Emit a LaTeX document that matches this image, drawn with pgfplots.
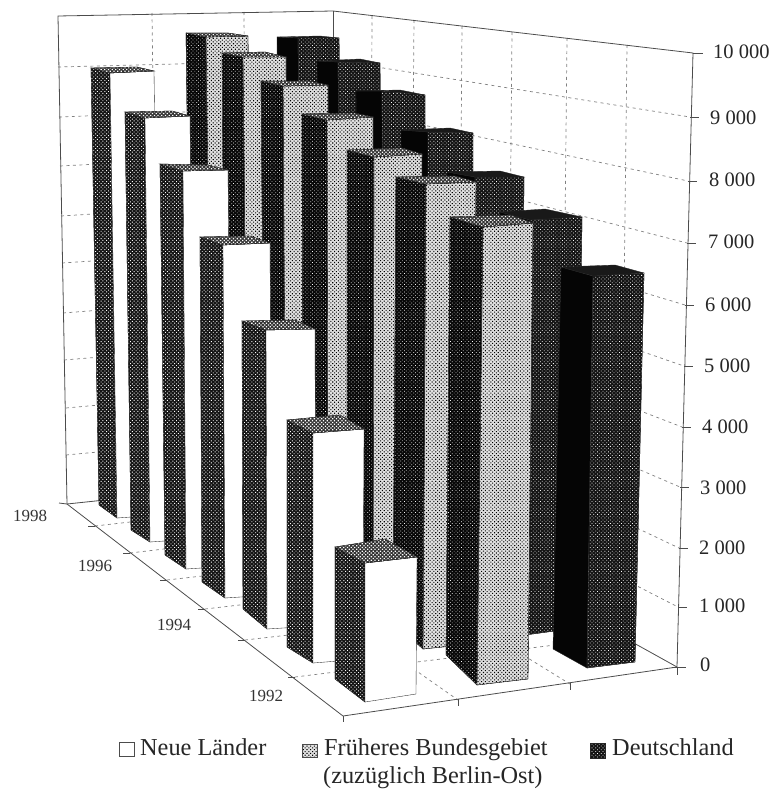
\documentclass[border=0pt]{standalone}
\usepackage{fontspec}
\setmainfont{Liberation Serif}
\usepackage{pgfplots}
\pgfplotsset{compat=1.18}
\usetikzlibrary{patterns.meta}
\tikzset{
  wd/.style={pattern={Dots[distance=2.6pt,radius=#1,angle=45]},pattern color=white},
  bd/.style={pattern={Dots[distance=2.6pt,radius=#1,angle=45]},pattern color=black},
  NLl/.style={fill=black!92,postaction={wd=.65pt}},
  NLf/.style={fill=white},
  NLt/.style={fill=black!80,postaction={wd=.9pt}},
  Fl/.style={fill=black!97,postaction={wd=.5pt}},
  Ff/.style={fill=black!12,postaction={bd=.75pt}},
  Ft/.style={fill=black!80,postaction={wd=.9pt}},
  Dl/.style={fill=black!98},
  Df/.style={fill=black!92,postaction={wd=.55pt}},
  Dt/.style={fill=black!90},
  grd/.style={gray,line width=.7pt,dash pattern=on 3pt off 3.5pt},
  axl/.style={black!70,line width=.8pt}
}
% #1 series; #2 back-left top; #3 front-left top; #4 front-right top; #5 back-right top;
% #6 back-left foot; #7 front-left foot; #8 front-right foot (pixels of the picture)
\newcommand\BarF[8]{%
  \addplot[draw=black!85,line width=.35pt,#1l] coordinates {#2 #3 #7 #6} -- cycle;
  \addplot[draw=black!85,line width=.35pt,#1f] coordinates {#3 #4 #8 #7} -- cycle;
  \addplot[draw=black!85,line width=.35pt,#1t] coordinates {#2 #5 #4 #3} -- cycle;
}
\newcommand\Ln[2][grd]{\addplot[#1] coordinates {#2};}
\begin{document}
\begin{tikzpicture}
\begin{axis}[
  scale only axis,width=775pt,height=792pt,
  xmin=0,xmax=775,ymin=0,ymax=792,y dir=reverse,
  axis lines=none,clip=false]
\path (axis cs:0,0) -- (axis cs:775,792);
% walls: value grid
\Ln{(58,67)(333,60)(690,117)}
\Ln{(59,117)(333,106)(688,181)}
\Ln{(60,166)(333,152)(687,243)}
\Ln{(61,216)(333,199)(685,305)}
\Ln{(62,263)(333,245)(684,366)}
\Ln{(63,313)(333,292)(682,427)}
\Ln{(64,360)(333,338)(680,487)}
\Ln{(66,408)(333,384)(679,548)}
\Ln{(66,455)(333,430)(678,607)}
% walls: vertical grid
\Ln{(152,13)(158,490)}
\Ln{(244,12)(247,485)}
\Ln{(372,16)(370,498)}
\Ln{(414,20)(410,520)}
\Ln{(462,26)(458,547)}
\Ln{(512,32)(507,574)}
\Ln{(567,38)(561,604)}
\Ln{(627,45)(620,637)}
% floor grid
\Ln{(95,526)(368,495)}
\Ln{(130,553)(410,520)}
\Ln{(167,580)(458,547)}
\Ln{(205,609)(507,574)}
\Ln{(245,640)(561,604)}
\Ln{(295,677)(620,637)}
\Ln{(158,490)(458,700)}
\Ln{(247,485)(570,684)}
% axes
\Ln[axl]{(67,504)(58,16)(333,11)(693,53)(677,667)}
\Ln[axl]{(333,11)(333,476)}
\Ln[axl]{(67,504)(333,476)(677,667)}
\Ln[axl]{(59,503)(67,504)(343,716)(677,667)}
\Ln[axl]{(343,716)(343,722)}
\Ln[axl]{(458,699)(458,706)}
\Ln[axl]{(570,683)(570,690)}
\Ln[axl]{(88,526)(95,526)}
\Ln[axl]{(123,553)(130,553)}
\Ln[axl]{(160,580)(167,580)}
\Ln[axl]{(198,609)(205,609)}
\Ln[axl]{(238,640)(245,640)}
\Ln[axl]{(288,677)(295,677)}
\Ln[axl]{(693,53)(703,53)}
\Ln[axl]{(690,117)(699,117)}
\Ln[axl]{(688,181)(697,181)}
\Ln[axl]{(687,243)(696,243)}
\Ln[axl]{(685,305)(694,305)}
\Ln[axl]{(684,366)(693,366)}
\Ln[axl]{(682,427)(691,427)}
\Ln[axl]{(680,487)(689,487)}
\Ln[axl]{(679,548)(688,548)}
\Ln[axl]{(678,607)(687,607)}
\Ln[axl]{(672,667)(686,667)}
\Ln[axl]{(677,667)(677,675)}
% Deutschland, 1998 to 1992
\BarF{D}{(277,37)}{(298,38)}{(339,38)}{(320,36)}{(281,487)}{(303,505)}{(344,501)}
\BarF{D}{(317,61)}{(338,62)}{(380,63)}{(360,59)}{(320,508)}{(343,526)}{(383,522)}
\BarF{D}{(356,91)}{(382,91)}{(425,95)}{(400,90)}{(360,530)}{(385,550)}{(426,546)}
\BarF{D}{(401,130)}{(428,132)}{(473,133)}{(450,128)}{(403,555)}{(428,576)}{(472,571)}
\BarF{D}{(447,172)}{(475,177)}{(524,177)}{(500,171)}{(445,580)}{(473,604)}{(520,598)}
\BarF{D}{(500,212)}{(530,220)}{(582,217)}{(545,209)}{(496,610)}{(525,635)}{(577,628)}
\BarF{D}{(561,267)}{(593,276)}{(644,273)}{(615,265)}{(553,649)}{(587,668)}{(635,662)}
% Frueheres Bundesgebiet
\BarF{F}{(186,33)}{(206,37)}{(248,36)}{(228,33)}{(192,495)}{(212,512)}{(252,510)}
\BarF{F}{(222,53)}{(243,57)}{(286,57)}{(265,52)}{(226,518)}{(248,535)}{(290,532)}
\BarF{F}{(261,81)}{(283,86)}{(328,85)}{(308,81)}{(265,540)}{(286,560)}{(330,557)}
\BarF{F}{(302,114)}{(327,120)}{(373,117)}{(354,113)}{(303,566)}{(328,587)}{(374,583)}
\BarF{F}{(347,150)}{(374,157)}{(422,154)}{(402,148)}{(347,592)}{(373,616)}{(421,611)}
\BarF{F}{(396,177)}{(426,184)}{(476,182)}{(455,176)}{(393,622)}{(423,649)}{(472,644)}
\BarF{F}{(450,217)}{(483,227)}{(533,223)}{(510,215)}{(446,655)}{(477,685)}{(528,679)}
% Neue Laender
\BarF{NL}{(91,68)}{(110,73)}{(154,71)}{(137,67)}{(99,505)}{(117,518)}{(160,515)}
\BarF{NL}{(125,112)}{(145,118)}{(190,116)}{(172,111)}{(131,530)}{(150,542)}{(194,539)}
\BarF{NL}{(160,164)}{(183,171)}{(228,170)}{(208,165)}{(165,555)}{(186,569)}{(232,566)}
\BarF{NL}{(200,237)}{(223,245)}{(270,243)}{(250,236)}{(202,582)}{(225,598)}{(272,595)}
\BarF{NL}{(242,321)}{(266,330)}{(315,329)}{(295,320)}{(243,609)}{(267,629)}{(316,626)}
\BarF{NL}{(287,420)}{(313,433)}{(364,429)}{(340,415)}{(287,647)}{(313,663)}{(363,659)}
\BarF{NL}{(335,547)}{(365,563)}{(417,557)}{(385,539)}{(335,679)}{(365,702)}{(416,694)}
% legend keys
\addplot[draw=black!70,line width=.5pt,fill=white] coordinates {(119,742)(134,742)(134,756)(119,756)} -- cycle;
\addplot[draw=black!70,line width=.5pt,Ff] coordinates {(302,744)(317,744)(317,757)(302,757)} -- cycle;
\addplot[draw=black!85,line width=.5pt,Df] coordinates {(590,743)(605,743)(605,758)(590,758)} -- cycle;
% labels
\tikzset{tk/.style={anchor=base west,inner sep=0pt,text=black!85,font=\fontsize{20.5}{21}\selectfont},
 yr/.style={anchor=base west,inner sep=0pt,text=black!80,font=\fontsize{17}{18}\selectfont},
 lg/.style={anchor=base west,inner sep=0pt,text=black!85,font=\fontsize{24.3}{25}\selectfont}}
\node[tk] at (axis cs:713,59) {10 000};
\node[tk] at (axis cs:710,124) {9 000};
\node[tk] at (axis cs:709,186) {8 000};
\node[tk] at (axis cs:708,248) {7 000};
\node[tk] at (axis cs:705,311) {6 000};
\node[tk] at (axis cs:704,372) {5 000};
\node[tk] at (axis cs:702,433) {4 000};
\node[tk] at (axis cs:700,494) {3 000};
\node[tk] at (axis cs:699,554) {2 000};
\node[tk] at (axis cs:699,612) {1 000};
\node[tk] at (axis cs:700,671) {0};
\node[yr] at (axis cs:13,521) {1998};
\node[yr] at (axis cs:78,571) {1996};
\node[yr] at (axis cs:157,630) {1994};
\node[yr] at (axis cs:249,701) {1992};
\node[lg] at (axis cs:140,755) {Neue Länder};
\node[lg] at (axis cs:324,755) {Früheres Bundesgebiet};
\node[lg] at (axis cs:323,783) {(zuzüglich Berlin-Ost)};
\node[lg] at (axis cs:612,755) {Deutschland};
\end{axis}
\end{tikzpicture}
\end{document}
